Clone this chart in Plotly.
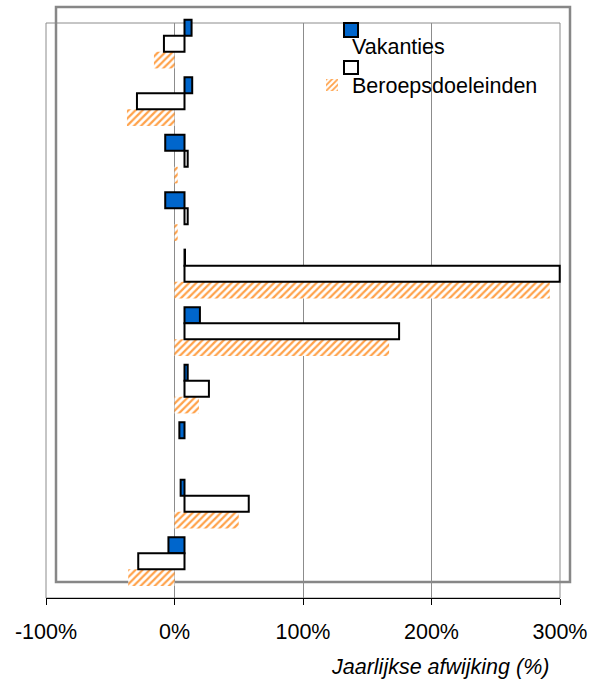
import plotly.graph_objects as go

# ---- data ----
categories = ["1", "2", "3", "4", "5", "6", "7", "8", "9", "10"]
vakanties = [5.5, 6, -15, -15, 0.4, 12, 2.5, -4, -3, -12.5]
beroepsdoeleinden = [-16, -37, 2.5, 2.5, 292, 167, 19, None, 50, -36]
tick_values = [-100, 0, 100, 200, 300]
tick_labels = ["-100%", "0%", "100%", "200%", "300%"]
series_names = ["Vakanties", "Beroepsdoeleinden"]
axis_title = "Jaarlijkse afwijking (%)"

# ---- geometry helpers (pixels -> paper) ----
W, H = 598, 681
def fx(p):
    return p / W
def fy(p):
    return 1 - p / H

FONT = "Liberation Sans, Arial, sans-serif"
FS = 21.5
BLUE = "#0066CC"
HATCH = "#FFA24A"
GRAY = "#8c8c8c"
BW = 0.28

fig = go.Figure()

# shadow (hatched) series on the main axes
fig.add_trace(go.Bar(
    y=categories, x=beroepsdoeleinden, orientation="h",
    xaxis="x", yaxis="y", width=0.29, offset=0,
    marker=dict(color="white",
                pattern=dict(shape="/", fgcolor=HATCH, bgcolor="white",
                             size=5, solidity=0.45),
                line=dict(width=0)),
    name=series_names[1], showlegend=True,
))

# real series on the offset axes
fig.add_trace(go.Bar(
    y=categories, x=vakanties, orientation="h",
    xaxis="x2", yaxis="y2", width=BW, offset=-BW,
    marker=dict(color=BLUE, line=dict(color="black", width=2)),
    name=series_names[0], showlegend=False,
))
fig.add_trace(go.Bar(
    y=categories, x=beroepsdoeleinden, orientation="h",
    xaxis="x2", yaxis="y2", width=BW, offset=0,
    marker=dict(color="white", line=dict(color="black", width=2)),
    name=series_names[1], showlegend=False,
))

shapes = [
    dict(type="rect", xref="paper", yref="paper",
         x0=fx(46), x1=fx(560), y0=fy(598), y1=fy(23),
         line=dict(color=GRAY, width=1), layer="below"),
    dict(type="rect", xref="paper", yref="paper",
         x0=fx(56), x1=fx(570), y0=fy(582), y1=fy(7),
         line=dict(color="#878787", width=2.5), layer="below"),
    dict(type="rect", xref="paper", yref="paper",
         x0=fx(344), x1=fx(358), y0=fy(37), y1=fy(23),
         fillcolor=BLUE, line=dict(color="black", width=2)),
    dict(type="rect", xref="paper", yref="paper",
         x0=fx(344), x1=fx(358), y0=fy(74), y1=fy(61),
         fillcolor="white", line=dict(color="black", width=2)),
]

annotations = [
    dict(text=series_names[0], xref="paper", yref="paper",
         x=fx(350), y=fy(47), xanchor="left", yanchor="middle",
         showarrow=False, font=dict(size=FS, color="black", family=FONT)),
    dict(text="<i>" + axis_title + "</i>", xref="paper", yref="paper",
         x=fx(551), y=fy(667), xanchor="right", yanchor="middle",
         showarrow=False, font=dict(size=FS, color="black", family=FONT)),
]

fig.update_layout(
    template="none",
    width=W, height=H,
    margin=dict(l=0, r=0, t=0, b=0, autoexpand=False),
    paper_bgcolor="white", plot_bgcolor="rgba(0,0,0,0)",
    font=dict(family=FONT, size=FS, color="black"),
    barmode="overlay",
    xaxis=dict(domain=[fx(46), fx(560)], range=[-100, 300], anchor="y",
               automargin=False,
               tickvals=tick_values, ticktext=tick_labels,
               showgrid=True, gridcolor=GRAY, gridwidth=1,
               zeroline=True, zerolinecolor=GRAY, zerolinewidth=1,
               showline=True, linecolor="black", linewidth=1,
               ticks="outside", ticklen=6, tickcolor="black",
               ticklabelstandoff=8,
               tickfont=dict(size=FS, color="black", family=FONT)),
    yaxis=dict(domain=[fy(598), fy(23)], type="category",
               range=[9.5, -0.5], anchor="x", automargin=False,
               showticklabels=False, showgrid=False, zeroline=False,
               showline=False, ticks=""),
    xaxis2=dict(domain=[fx(56), fx(570)], range=[-100, 300], anchor="y2",
                visible=False, automargin=False),
    yaxis2=dict(domain=[fy(582), fy(7)], type="category",
                range=[9.5, -0.5], anchor="x2", visible=False,
                automargin=False),
    shapes=shapes,
    annotations=annotations,
    showlegend=True,
    legend=dict(x=fx(312), y=fy(85), xanchor="left", yanchor="middle",
                bgcolor="rgba(0,0,0,0)", borderwidth=0,
                font=dict(size=FS, color="black", family=FONT)),
)

fig.write_html(
    "out.html",
    config={"displayModeBar": False},
    post_script="document.body.style.margin='0';document.body.style.overflow='hidden';",
)
